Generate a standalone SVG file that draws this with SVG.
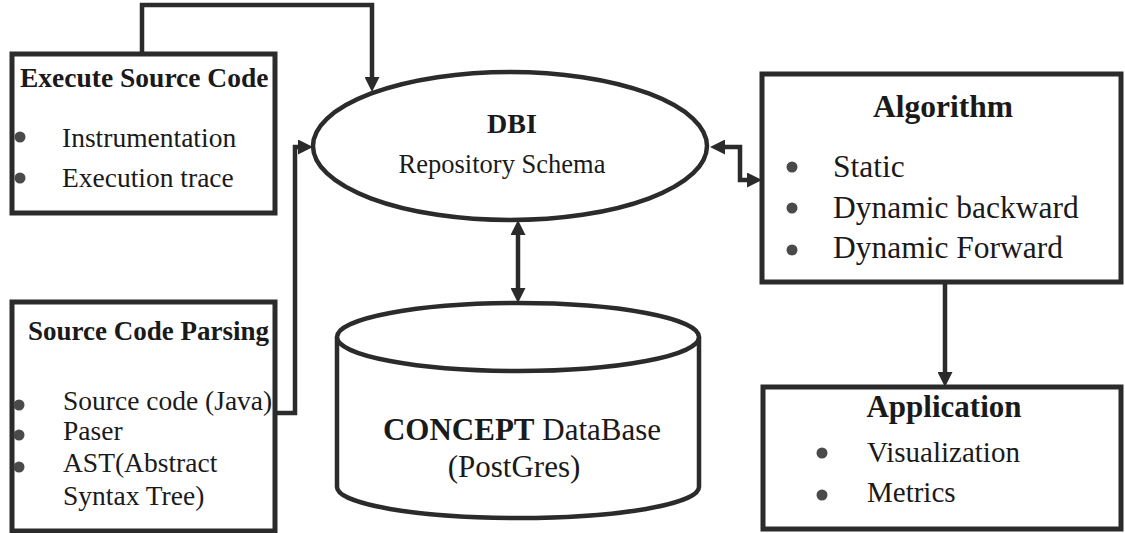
<svg xmlns="http://www.w3.org/2000/svg" width="1125" height="533" viewBox="0 0 1125 533">
  <style>
    .box { fill: #ffffff; stroke: #2b2b2b; stroke-width: 5; }
    .shape { fill: #ffffff; stroke: #2b2b2b; stroke-width: 4.5; }
    .wire { fill: none; stroke: #2b2b2b; stroke-width: 4.5; }
    .t { font-family: "Liberation Serif", "Times New Roman", serif; fill: #1a1a1a; }
    .b { font-weight: bold; }
    .dot { fill: #4a4a4a; }
  </style>
  <defs>
    <marker id="arrow" viewBox="0 0 15 15" refX="0" refY="7.5" markerWidth="15" markerHeight="15" markerUnits="userSpaceOnUse" orient="auto-start-reverse">
      <path d="M0,0 L15,7.5 L0,15 z" fill="#2b2b2b"/>
    </marker>
  </defs>

  <rect width="1125" height="533" fill="#ffffff"/>

  <!-- connectors -->
  <g id="connectors">
    <path class="wire" d="M142,54 V5 H372 V77" marker-end="url(#arrow)"/>
    <path class="wire" d="M275,413 H295 V147 H298" marker-end="url(#arrow)"/>
    <path class="wire" d="M725,147 H740 V180 H747" marker-start="url(#arrow)" marker-end="url(#arrow)"/>
    <path class="wire" d="M518,235 V288" marker-start="url(#arrow)" marker-end="url(#arrow)"/>
    <path class="wire" d="M945,282 V372" marker-end="url(#arrow)"/>
  </g>

  <!-- Execute Source Code -->
  <g id="execute">
    <rect class="box" x="12" y="54" width="263" height="159"/>
    <text class="t b" x="20" y="87" font-size="27.5">Execute Source Code</text>
    <circle class="dot" cx="20" cy="137" r="5.5"/>
    <text class="t" x="62" y="147" font-size="27.5">Instrumentation</text>
    <circle class="dot" cx="20" cy="178" r="5.5"/>
    <text class="t" x="62" y="187" font-size="27.5">Execution trace</text>
  </g>

  <!-- Source Code Parsing -->
  <g id="parsing">
    <rect class="box" x="12" y="302" width="263" height="229"/>
    <text class="t b" x="28" y="340" font-size="27">Source Code Parsing</text>
    <circle class="dot" cx="19" cy="405" r="5.5"/>
    <text class="t" x="63" y="410" font-size="27.5">Source code (Java)</text>
    <circle class="dot" cx="19" cy="435" r="5.5"/>
    <text class="t" x="63" y="440" font-size="27.5">Paser</text>
    <circle class="dot" cx="19" cy="467" r="5.5"/>
    <text class="t" x="63" y="472" font-size="27.5">AST(Abstract</text>
    <text class="t" x="63" y="505" font-size="27.5">Syntax Tree)</text>
  </g>

  <!-- DBI ellipse -->
  <g id="dbi">
    <ellipse class="shape" cx="510" cy="146" rx="197" ry="74"/>
    <text class="t b" x="512" y="133" font-size="28" text-anchor="middle">DBI</text>
    <text class="t" x="502" y="173" font-size="26.5" text-anchor="middle">Repository Schema</text>
  </g>

  <!-- CONCEPT database cylinder -->
  <g id="database">
    <path class="shape" d="M337,337 V487 A181,31 0 0 0 699,487 V337"/>
    <ellipse class="shape" cx="518" cy="337" rx="181" ry="34"/>
    <text class="t" x="522" y="440" font-size="31" text-anchor="middle"><tspan class="b">CONCEPT</tspan> DataBase</text>
    <text class="t" x="514" y="477" font-size="31" text-anchor="middle">(PostGres)</text>
  </g>

  <!-- Algorithm -->
  <g id="algorithm">
    <rect class="box" x="762" y="74" width="359" height="208"/>
    <text class="t b" x="943" y="117" font-size="31.5" text-anchor="middle">Algorithm</text>
    <circle class="dot" cx="792" cy="167" r="5.5"/>
    <text class="t" x="833" y="177" font-size="31.5">Static</text>
    <circle class="dot" cx="792" cy="208" r="5.5"/>
    <text class="t" x="833" y="218" font-size="31.5">Dynamic backward</text>
    <circle class="dot" cx="792" cy="250" r="5.5"/>
    <text class="t" x="833" y="258" font-size="31.5">Dynamic Forward</text>
  </g>

  <!-- Application -->
  <g id="application">
    <rect class="box" x="763" y="387" width="358" height="142"/>
    <text class="t b" x="944" y="417" font-size="31" text-anchor="middle">Application</text>
    <circle class="dot" cx="822" cy="453" r="5.5"/>
    <text class="t" x="867" y="462" font-size="29">Visualization</text>
    <circle class="dot" cx="822" cy="495" r="5.5"/>
    <text class="t" x="867" y="502" font-size="29">Metrics</text>
  </g>
</svg>
